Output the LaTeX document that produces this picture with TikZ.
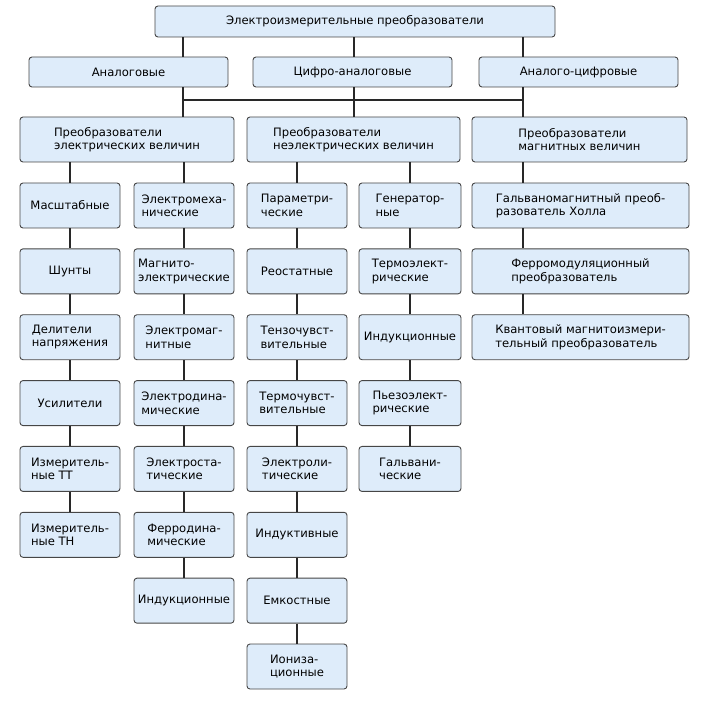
\documentclass[tikz,border=0pt]{standalone}
\usepackage{fontspec}
\setmainfont{DejaVu Sans}
\definecolor{boxfill}{RGB}{222,236,250}
\definecolor{boxline}{RGB}{70,70,70}
\definecolor{wire}{RGB}{40,40,40}
\tikzset{
    box/.style={draw=boxline,fill=boxfill,rounded corners=3pt,line width=0.9pt,
        inner sep=0pt,minimum height=45,align=left,
        font=\fontsize{11.6}{13.4}\selectfont},
    wide/.style={box,minimum height=30},
    link/.style={draw=wire,line width=2pt}
}
\begin{document}
\begin{tikzpicture}[x=1pt,y=-1pt]
    \useasboundingbox (0,0) rectangle (711,708);
    %% junctions on the bus
    \coordinate (j1) at (183,100);
    \coordinate (j2) at (354,100);
    \coordinate (j3) at (523,100);
    %% top two levels
    \node[wide,minimum width=400,minimum height=31] (top) at (355,21.5) {Электроизмерительные преобразователи};
    \node[wide,minimum width=199] (ana) at (128.5,72) {Аналоговые};
    \node[wide,minimum width=199] (cap) at (352.5,72) {Цифро-аналоговые};
    \node[wide,minimum width=199] (acp) at (578.5,72) {Аналого-цифровые};
    %% third level
    \node[box,minimum width=214] (el) at (127,139.5) {Преобразователи\\электрических величин};
    \node[box,minimum width=213] (nel) at (353.5,139.5) {Преобразователи\\неэлектрических величин};
    \node[box,minimum width=215] (mag) at (579.5,139.5) {Преобразователи\\магнитных величин};
    %% columns
    \foreach [count=\i] \t in {Масштабные,Шунты,Делители\\напряжения,Усилители,
            Измеритель-\\ные ТТ,Измеритель-\\ные ТН}
        \node[box,minimum width=100] (a\i) at (70,{205.5+65.86*(\i-1)}) {\t};
    \foreach [count=\i] \t in {Электромеха-\\нические,Магнито-\\электрические,
            Электромаг-\\нитные,Электродина-\\мические,Электроста-\\тические,
            Ферродина-\\мические,Индукционные}
        \node[box,minimum width=100] (b\i) at (184,{205.5+65.86*(\i-1)}) {\t};
    \foreach [count=\i] \t in {Параметри-\\ческие,Реостатные,Тензочувст-\\вительные,
            Термочувст-\\вительные,Электроли-\\тические,Индуктивные,Емкостные,
            Иониза-\\ционные}
        \node[box,minimum width=100] (c\i) at (297,{205.5+65.86*(\i-1)}) {\t};
    \foreach [count=\i] \t in {Генератор-\\ные,Термоэлект-\\рические,Индукционные,
            Пьезоэлект-\\рические,Гальвани-\\ческие}
        \node[box,minimum width=102] (d\i) at (410,{205.5+65.86*(\i-1)}) {\t};
    \foreach [count=\i] \t in {Гальваномагнитный преоб-\\разователь Холла,
            Ферромодуляционный\\преобразователь,
            Квантовый магнитоизмери-\\тельный преобразователь}
        \node[box,minimum width=217] (e\i) at (580.5,{205.5+65.86*(\i-1)}) {\t};
    %% connectors
    \draw[link] (j1) -- (j3);
    \foreach \n/\c in {ana/j1,cap/j2,acp/j3}
        \draw[link] (top.south -| \c) -- (\n.north -| \c);
    \foreach \n/\c in {ana/j1,cap/j2,acp/j3}
        \draw[link] (\n.south -| \c) -- (\c);
    \foreach \n/\c in {el/j1,nel/j2,mag/j3}
        \draw[link] (\c) -- (\n.north -| \c);
    \draw[link] (el.south -| a1.north) -- (a1.north);
    \draw[link] (el.south -| b1.north) -- (b1.north);
    \draw[link] (nel.south -| c1.north) -- (c1.north);
    \draw[link] (nel.south -| d1.north) -- (d1.north);
    \draw[link] (mag.south -| j3) -- (e1.north -| j3);
    \foreach \i [evaluate=\i as \j using int(\i+1)] in {1,...,5}
        \draw[link] (a\i) -- (a\j);
    \foreach \i [evaluate=\i as \j using int(\i+1)] in {1,...,6}
        \draw[link] (b\i) -- (b\j);
    \foreach \i [evaluate=\i as \j using int(\i+1)] in {1,...,7}
        \draw[link] (c\i) -- (c\j);
    \foreach \i [evaluate=\i as \j using int(\i+1)] in {1,...,4}
        \draw[link] (d\i) -- (d\j);
    \foreach \i [evaluate=\i as \j using int(\i+1)] in {1,2}
        \draw[link] (e\i.south -| j3) -- (e\j.north -| j3);
\end{tikzpicture}
\end{document}
